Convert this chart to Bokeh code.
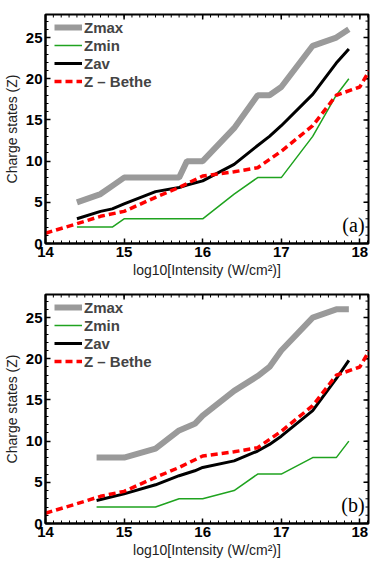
import numpy as np
from bokeh.plotting import figure
from bokeh.models import Range1d, Legend, LegendItem, Label, SingleIntervalTicker
from bokeh.layouts import column
from bokeh.embed import file_html
from bokeh.resources import INLINE

# ---- data ----
bethe_x = [14.0, 14.4, 14.7, 15.0, 15.4, 15.7, 16.0, 16.4, 16.7, 17.0, 17.4, 17.7, 18.0, 18.12]
bethe_z = [1.25, 2.4, 3.3, 3.9, 5.6, 6.8, 8.2, 8.7, 9.2, 11.2, 14.3, 18.0, 19.0, 21.0]

a_x = [14.4, 14.7, 14.85, 15.0, 15.4, 15.7, 15.8, 16.0, 16.4, 16.7, 16.85, 17.0, 17.4, 17.7, 17.86]
a_zmax = [5, 6, 7, 8, 8, 8, 10, 10, 14, 18, 18, 19, 24, 25, 26]
a_zmin = [2, 2, 2, 3, 3, 3, 3, 3, 6, 8, 8, 8, 13, 18, 20]
a_zav = [3, 3.9, 4.2, 4.8, 6.3, 6.8, 7.1, 7.6, 9.6, 11.9, 13.0, 14.3, 18.1, 21.9, 23.6]

b_x = [14.65, 15.0, 15.4, 15.7, 15.9, 16.0, 16.4, 16.7, 16.85, 17.0, 17.4, 17.7, 17.86]
b_zmax = [8, 8, 9.1, 11.3, 12.1, 13.1, 16.1, 17.9, 19, 21, 25, 26, 26]
b_zmin = [2, 2, 2, 3, 3, 3, 4, 6, 6, 6, 8, 8, 10]
b_zav = [2.8, 3.6, 4.7, 5.8, 6.4, 6.8, 7.6, 8.8, 9.6, 10.6, 13.7, 17.6, 19.8]

names = ["Zmax", "Zmin", "Zav", "Z \u2013 Bethe"]
xlabel = "log10[Intensity (W/cm\u00b2)]"
ylabel = "Charge states (Z)"

FONT = "Liberation Sans"
X0, X1, Y0, Y1 = 14.0, 18.11, 0.0, 27.8
# tick marks for the unlabeled top / right frame sides
top_minor = [round(v, 2) for v in np.arange(14.0, 18.11, 0.1)]
top_major = [14, 15, 16, 17, 18]
right_minor = list(range(0, 28))
right_major = [0, 5, 10, 15, 20, 25]


def panel(xs, zmax, zmin, zav, tag, h, top, bottom, frame_h):
    p = figure(width=374, height=h, output_backend="svg", toolbar_location=None,
               x_range=Range1d(X0, X1), y_range=Range1d(Y0, Y1),
               min_border_left=45, min_border_right=6, min_border_top=top,
               min_border_bottom=bottom, x_axis_label=xlabel, y_axis_label=ylabel)
    p.grid.visible = False
    p.outline_line_color = "black"
    p.outline_line_width = 2
    p.background_fill_color = "white"

    p.xaxis.ticker = SingleIntervalTicker(interval=1, num_minor_ticks=10)
    p.yaxis.ticker = SingleIntervalTicker(interval=5, num_minor_ticks=5)
    for ax in p.xaxis + p.yaxis:
        ax.axis_line_width = 2
        ax.axis_line_color = "black"
        ax.major_tick_in = 5
        ax.major_tick_out = 0
        ax.minor_tick_in = 3
        ax.minor_tick_out = 0
        ax.major_tick_line_width = 1.5
        ax.minor_tick_line_width = 1
        ax.major_label_text_font = FONT
        ax.major_label_text_font_style = "bold"
        ax.major_label_text_font_size = "15px"
        ax.major_label_text_color = "black"
        ax.major_label_standoff = 3
        ax.axis_label_text_font = FONT
        ax.axis_label_text_font_style = "normal"
        ax.axis_label_text_font_size = "14px"
        ax.axis_label_text_color = "#222222"
    p.xaxis.axis_label_standoff = 2
    p.yaxis.axis_label_standoff = 3

    # ticks on top and right sides of the box
    p.ray(x=top_minor, y=Y1, length=3, length_units="screen", angle=-np.pi / 2,
          line_color="black", line_width=1)
    p.ray(x=top_major, y=Y1, length=5, length_units="screen", angle=-np.pi / 2,
          line_color="black", line_width=1.5)
    p.ray(x=X1, y=right_minor, length=3, length_units="screen", angle=np.pi,
          line_color="black", line_width=1)
    p.ray(x=X1, y=right_major, length=5, length_units="screen", angle=np.pi,
          line_color="black", line_width=1.5)

    r1 = p.line(xs, zmax, line_color="#9a9a9a", line_width=6)
    r2 = p.line(xs, zmin, line_color="#1fa31f", line_width=1.5)
    r3 = p.line(xs, zav, line_color="black", line_width=3)
    r4 = p.line(bethe_x, bethe_z, line_color="#ff0000", line_width=3.5, line_dash="7 4")

    legend = Legend(items=[LegendItem(label=n, renderers=[r]) for n, r in zip(names, [r1, r2, r3, r4])],
                    location=(9, frame_h - 4 - 72), padding=0, margin=0, spacing=0,
                    border_line_color=None, background_fill_alpha=0,
                    label_text_font=FONT, label_text_font_style="bold",
                    label_text_font_size="15px", glyph_width=28, glyph_height=18,
                    label_height=18, label_standoff=2)
    p.add_layout(legend)

    p.add_layout(Label(x=18.06, y=0.9, text=tag, text_align="right", text_baseline="bottom",
                       text_font="Liberation Serif", text_font_size="20px", text_color="black"))
    return p


p1 = panel(a_x, a_zmax, a_zmin, a_zav, "(a)", 286, 14, 43, 229)
p2 = panel(b_x, b_zmax, b_zmin, b_zav, "(b)", 275, 8, 38, 229)

layout = column(p1, p2, spacing=0)
open("out.html", "w").write(file_html(layout, INLINE))
